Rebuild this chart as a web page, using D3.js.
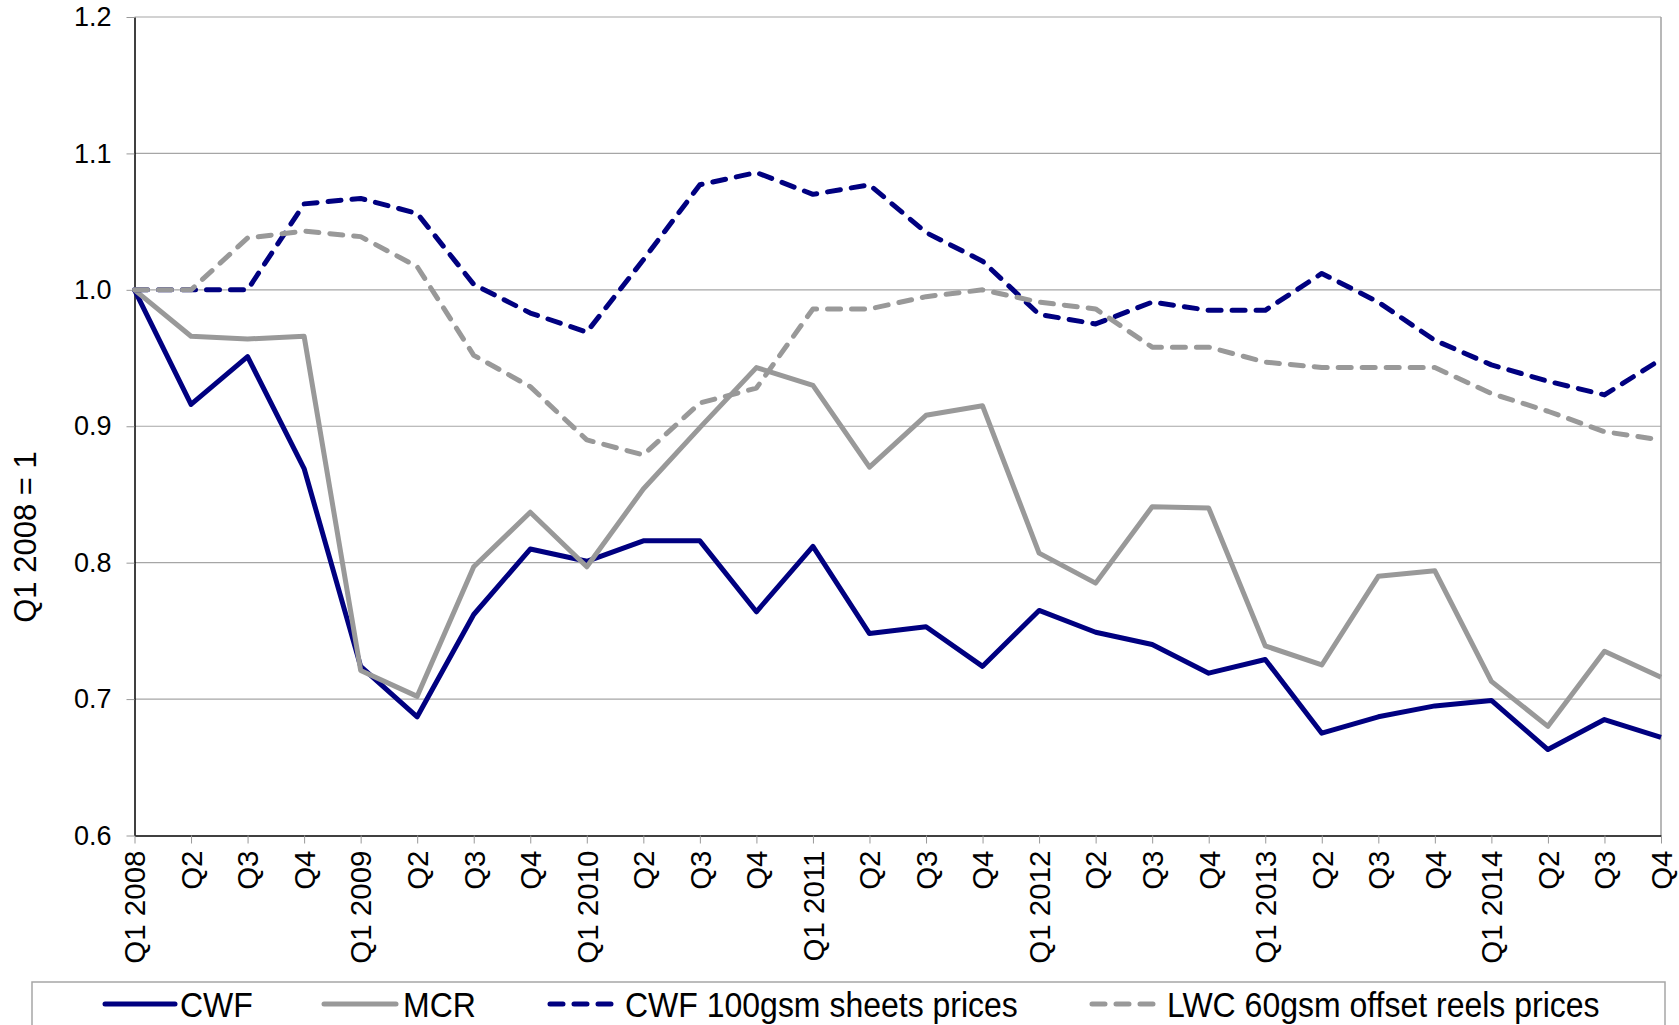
<!DOCTYPE html>
<html>
<head>
<meta charset="utf-8">
<script src="https://cdn.jsdelivr.net/npm/d3@7"></script>
<style>
  html, body { margin: 0; padding: 0; background: #ffffff; }
  svg { display: block; font-family: "Liberation Sans", Arial, sans-serif; }
</style>
</head>
<body>
<svg id="chart" width="1679" height="1025"></svg>
<script>
// ---- data ----
const quarters = [
  "2008Q1","2008Q2","2008Q3","2008Q4",
  "2009Q1","2009Q2","2009Q3","2009Q4",
  "2010Q1","2010Q2","2010Q3","2010Q4",
  "2011Q1","2011Q2","2011Q3","2011Q4",
  "2012Q1","2012Q2","2012Q3","2012Q4",
  "2013Q1","2013Q2","2013Q3","2013Q4",
  "2014Q1","2014Q2","2014Q3","2014Q4"
];
const tickLabels = [
  "Q1 2008","Q2","Q3","Q4",
  "Q1 2009","Q2","Q3","Q4",
  "Q1 2010","Q2","Q3","Q4",
  "Q1 2011","Q2","Q3","Q4",
  "Q1 2012","Q2","Q3","Q4",
  "Q1 2013","Q2","Q3","Q4",
  "Q1 2014","Q2","Q3","Q4"
];
const cwf = [
  1.000, 0.916, 0.951, 0.869,
  0.724, 0.687, 0.762, 0.810,
  0.801, 0.816, 0.816, 0.764,
  0.812, 0.748, 0.753, 0.724,
  0.765, 0.749, 0.740, 0.719,
  0.729, 0.675, 0.687, 0.695,
  0.699, 0.663, 0.685, 0.672
];
const mcr = [
  1.000, 0.966, 0.964, 0.966,
  0.721, 0.702, 0.797, 0.837,
  0.797, 0.854, 0.899, 0.943,
  0.930, 0.870, 0.908, 0.915,
  0.807, 0.785, 0.841, 0.840,
  0.739, 0.725, 0.790, 0.794,
  0.713, 0.680, 0.735, 0.716
];
const cwf100 = [
  1.000, 1.000, 1.000, 1.063,
  1.067, 1.056, 1.004, 0.983,
  0.969, 1.022, 1.077, 1.086,
  1.070, 1.077, 1.042, 1.021,
  0.982, 0.975, 0.991, 0.985,
  0.985, 1.012, 0.991, 0.963,
  0.945, 0.933, 0.923, 0.949
];
const lwc = [
  1.000, 1.000, 1.038, 1.043,
  1.039, 1.017, 0.952, 0.929,
  0.890, 0.879, 0.917, 0.928,
  0.986, 0.986, 0.995, 1.000,
  0.991, 0.986, 0.958, 0.958,
  0.947, 0.943, 0.943, 0.943,
  0.924, 0.911, 0.896, 0.890
];
const yTicks = [0.6, 0.7, 0.8, 0.9, 1.0, 1.1, 1.2];
const yTitle = "Q1 2008 = 1";
const seriesNames = ["CWF", "MCR", "CWF 100gsm sheets prices", "LWC 60gsm offset reels prices"];

// ---- styles ----
const NAVY = "#000080";
const GREY = "#999999";
const series = [
  { name: seriesNames[0], values: cwf,    color: NAVY, dash: null },
  { name: seriesNames[1], values: mcr,    color: GREY, dash: null },
  { name: seriesNames[2], values: cwf100, color: NAVY, dash: "13,11" },
  { name: seriesNames[3], values: lwc,    color: GREY, dash: "13,11" }
];

const svg = d3.select("#chart");
const L = 134.5, R = 1661, T = 17, B = 835.5;

const x = d3.scalePoint().domain(quarters).range([L, R]);
const y = d3.scaleLinear().domain([0.6, 1.2]).range([B, T]);

// gridlines
svg.append("g").selectAll("line")
  .data(yTicks.filter(v => v > 0.6))
  .join("line")
  .attr("x1", L).attr("x2", R)
  .attr("y1", d => y(d)).attr("y2", d => y(d))
  .attr("stroke", "#a6a6a6").attr("stroke-width", 1.2);

// right border
svg.append("line").attr("x1", R).attr("x2", R).attr("y1", T).attr("y2", B)
  .attr("stroke", "#a0a0a0").attr("stroke-width", 1.5);

// y axis
const yAxis = d3.axisLeft(y).tickValues(yTicks).tickFormat(d3.format(".1f")).tickSize(8).tickSizeOuter(0);
const gy = svg.append("g").attr("transform", `translate(${L},0)`).call(yAxis);
gy.select(".domain").attr("stroke", "#000").attr("stroke-width", 1.5);
gy.selectAll(".tick line").attr("stroke", "#999");
gy.selectAll(".tick text").attr("x", -23).attr("font-size", 27)
  .attr("font-family", "Liberation Sans, Arial, sans-serif").attr("fill", "#000");

// x axis
const xAxis = d3.axisBottom(x).tickFormat((d, i) => tickLabels[i]).tickSize(8).tickSizeOuter(0);
const gx = svg.append("g").attr("transform", `translate(0,${B})`).call(xAxis);
gx.select(".domain").attr("stroke", "#000").attr("stroke-width", 1.5);
gx.selectAll(".tick line").attr("stroke", "#999");
gx.selectAll(".tick text")
  .attr("font-size", 29.5)
  .attr("font-family", "Liberation Sans, Arial, sans-serif")
  .attr("fill", "#000")
  .attr("text-anchor", "end")
  .attr("transform", "translate(0,15) rotate(-90)")
  .attr("x", 0).attr("y", 0).attr("dy", "0.35em");

// y title
svg.append("text")
  .attr("transform", "translate(25,537) rotate(-90)")
  .attr("text-anchor", "middle")
  .attr("dy", "0.35em")
  .attr("font-size", 31)
  .attr("fill", "#000")
  .text(yTitle);

// lines
const line = d3.line().x((d, i) => x(quarters[i])).y(d => y(d));
svg.append("g").selectAll("path")
  .data(series)
  .join("path")
  .attr("d", d => line(d.values))
  .attr("fill", "none")
  .attr("stroke", d => d.color)
  .attr("stroke-width", 5)
  .attr("stroke-linejoin", "round")
  .attr("stroke-linecap", d => d.dash ? "round" : "butt")
  .attr("stroke-dasharray", d => d.dash);

// legend
const lg = svg.append("g");
lg.append("rect").attr("x", 32).attr("y", 982).attr("width", 1633).attr("height", 70)
  .attr("fill", "#fff").attr("stroke", "#a6a6a6").attr("stroke-width", 1.5);
const legendPos = [
  { x1: 105, x2: 175, tx: 180 },
  { x1: 324, x2: 396, tx: 403 },
  { x1: 550, x2: 619, tx: 625 },
  { x1: 1092, x2: 1160, tx: 1167 }
];
series.forEach((s, i) => {
  const p = legendPos[i];
  lg.append("line").attr("x1", p.x1).attr("x2", p.x2).attr("y1", 1004).attr("y2", 1004)
    .attr("stroke", s.color).attr("stroke-width", 5)
    .attr("stroke-linecap", "round")
    .attr("stroke-dasharray", s.dash);
  lg.append("text")
    .attr("transform", `translate(${p.tx},1017) scale(1,1.1)`)
    .attr("font-size", 32).attr("fill", "#000").text(s.name);
});
</script>
</body>
</html>
